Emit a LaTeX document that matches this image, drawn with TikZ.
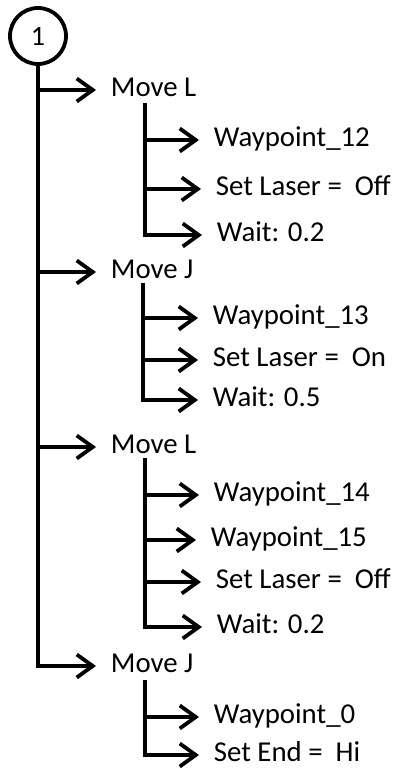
\documentclass[tikz,border=0pt]{standalone}
\usepackage{fontspec}
\setmainfont{Carlito}
\usetikzlibrary{arrows.meta, positioning, calc}

\begin{document}
\begin{tikzpicture}
        [
            x=0.5pt, y=-0.5pt, line width=1.9pt,
            start/.style={circle, draw, line width=1.9pt, minimum size=28pt,
                          inner sep=0pt, font=\fontsize{14}{14}\selectfont},
            cmd/.style={anchor=west, inner sep=0pt, text height=0.64em,
                        text depth=0pt, font=\fontsize{14.4}{14.4}\selectfont},
            arr/.style={-{Straight Barb[length=8pt, width=11.5pt]}, shorten >=6.5pt}
        ]
        \useasboundingbox (0,0) rectangle (399,769);
        \node (n1) [start] at (38,36) {1};
        % moves
        \node (mvA) [cmd] at (109,90) {Move L};
        \node (mvB) [cmd] at (109,272) {Move J};
        \node (mvC) [cmd] at (109,447) {Move L};
        \node (mvD) [cmd] at (109,666) {Move J};
        % steps
        \node (wA1) [cmd] at (212,140) {Waypoint\_12};
        \node (wA2) [cmd] at (214,189) {Set Laser =\ \ Off};
        \node (wA3) [cmd] at (215,235) {Wait: 0.2};
        \node (wB1) [cmd] at (211,318) {Waypoint\_13};
        \node (wB2) [cmd] at (211,360) {Set Laser =\ \ On};
        \node (wB3) [cmd] at (211,400) {Wait: 0.5};
        \node (wC1) [cmd] at (212,495) {Waypoint\_14};
        \node (wC2) [cmd] at (209,540) {Waypoint\_15};
        \node (wC3) [cmd] at (214,582) {Set Laser =\ \ Off};
        \node (wC4) [cmd] at (215,627) {Wait: 0.2};
        \node (wD1) [cmd] at (212,717) {Waypoint\_0};
        \node (wD2) [cmd] at (212,755) {Set End =\ \ Hi};
        % main trunk
        \foreach \m in {mvA,mvB,mvC}
            \draw [arr] (n1 |- \m.west) -- (\m.west);
        \draw [arr] (n1.south) |- (mvD.west);
        % sub trunks
        \coordinate (sA) at ($(mvA.west)+(36,13)$);
        \coordinate (sB) at ($(mvB.west)+(34,11)$);
        \coordinate (sC) at ($(mvC.west)+(36,11)$);
        \coordinate (sD) at ($(mvD.west)+(36,14)$);
        \foreach \w in {wA1,wA2}
            \draw [arr] (sA |- \w.west) -- (\w.west);
        \draw [arr] (sA) |- (wA3.west);
        \foreach \w in {wB1,wB2}
            \draw [arr] (sB |- \w.west) -- (\w.west);
        \draw [arr] (sB) |- (wB3.west);
        \foreach \w in {wC1,wC2,wC3}
            \draw [arr] (sC |- \w.west) -- (\w.west);
        \draw [arr] (sC) |- (wC4.west);
        \draw [arr] (sD |- wD1.west) -- (wD1.west);
        \draw [arr] (sD) |- (wD2.west);
    \end{tikzpicture}
\end{document}
